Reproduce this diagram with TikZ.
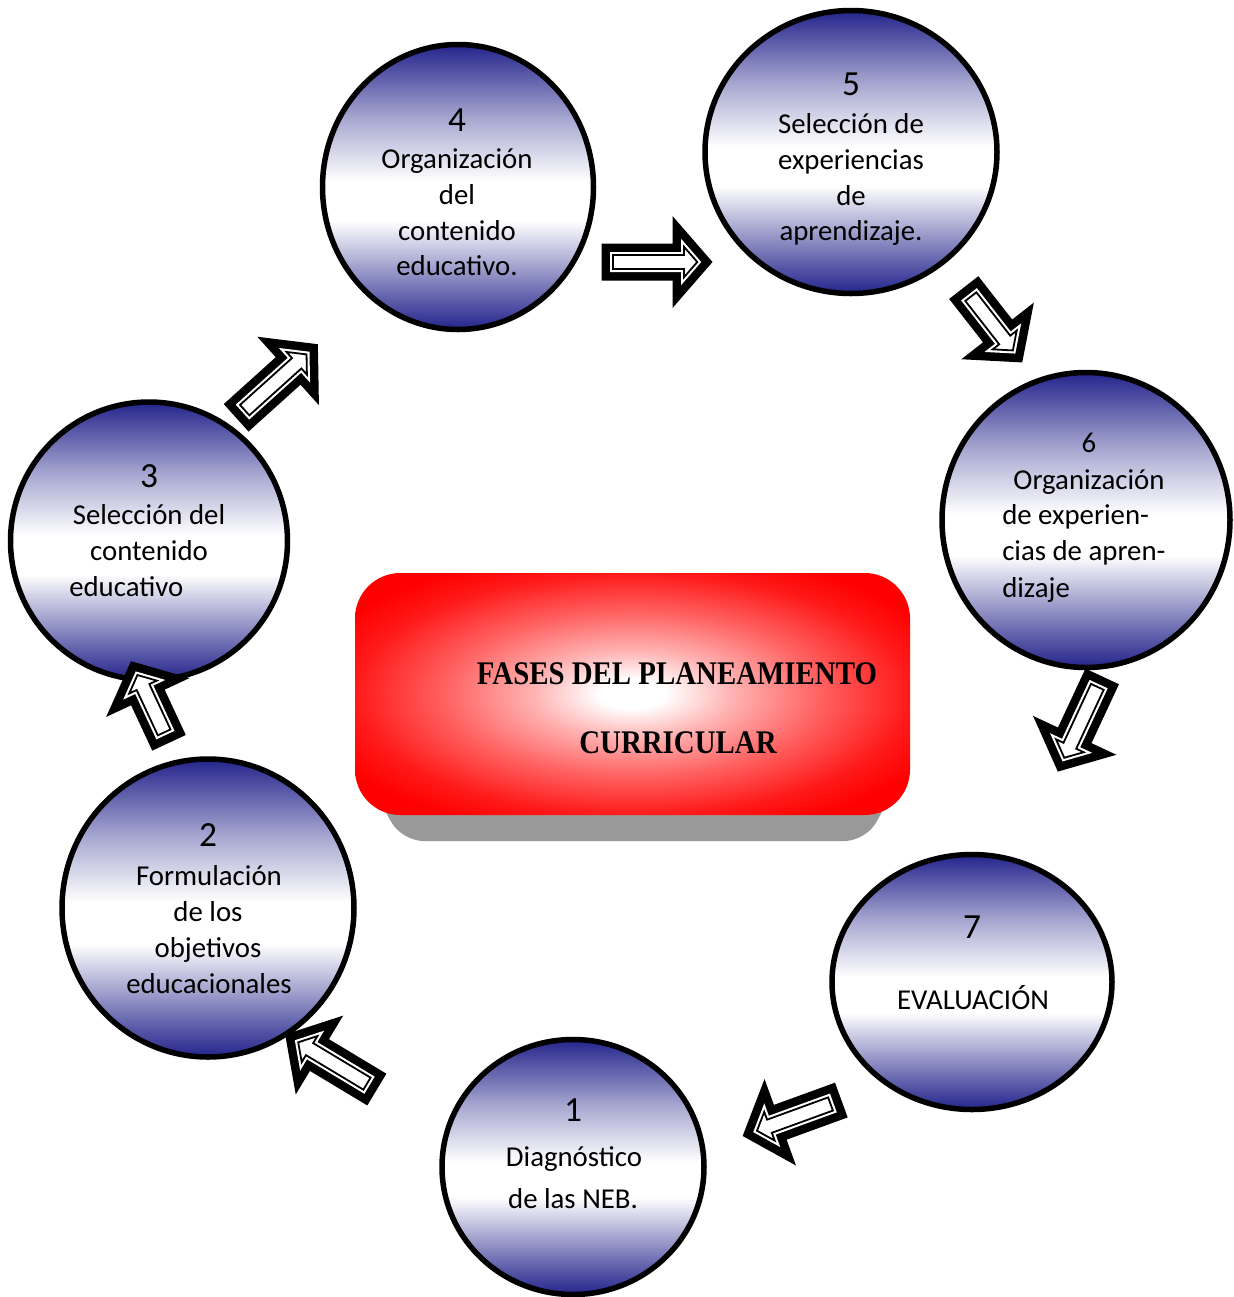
\documentclass[tikz,border=0pt]{standalone}
\usepackage{graphicx}
\usepackage{fontspec}
\setmainfont{Carlito}
\newfontfamily\titlefont{Liberation Serif}
\usetikzlibrary{shapes.geometric}
\newlength\px
\setlength\px{0.75pt}
\definecolor{cblue}{RGB}{36,36,140}
\pgfdeclareverticalshading{bluecirc}{100bp}{color(0bp)=(cblue); color(25bp)=(cblue); color(31bp)=(cblue!70!white); color(44bp)=(white); color(51bp)=(white); color(62bp)=(cblue!40!white); color(75bp)=(cblue); color(100bp)=(cblue)}
\pgfdeclareradialshading{redglow}{\pgfpoint{0bp}{0bp}}{color(0bp)=(white); color(3bp)=(white); color(9bp)=(red!30!white); color(17bp)=(red!62!white); color(25bp)=(red!90!white); color(30bp)=(red); color(50bp)=(red)}
\newcommand\arrlayer[2]{%
  \pgfmathsetmacro\arD{#1}%
  \pgfmathsetmacro\arHyp{sqrt(\arA*\arA+\arH*\arH)}%
  \pgfmathsetmacro\arXa{-\arL/2+\arD}%
  \pgfmathsetmacro\arXb{\arL/2-\arA+\arD}%
  \pgfmathsetmacro\arYw{\arW-\arD}%
  \pgfmathsetmacro\arYh{\arH*(\arA-\arD)/\arA-\arD*\arHyp/\arA}%
  \pgfmathsetmacro\arXt{\arL/2-\arD*\arHyp/\arH}%
  \path[#2] (\arXa,-\arYw) -- (\arXb,-\arYw) -- (\arXb,-\arYh) -- (\arXt,0) -- (\arXb,\arYh) -- (\arXb,\arYw) -- (\arXa,\arYw) -- cycle;}
\newcommand\blockarrow[5]{%
  \def\arL{#5}\def\arA{40}\def\arH{46}\def\arW{18.5}%
  \begin{scope}[shift={(#2,#3)}, rotate=#4]
    \coordinate (#1) at (0,0);
    \arrlayer{0}{fill=black}
    \arrlayer{8.5}{fill=white}
    \arrlayer{11.5}{draw=black, line width=1.8\px, fill=white}
  \end{scope}}
\newcommand\tline[5]{\node[#4] (#1) at (#2,#3) {#5};}
\begin{document}
\begin{tikzpicture}[x=0.75pt, y=-0.75pt,
  circ/.style={ellipse, draw=black, line width=5.5\px, shading=bluecirc, inner sep=0pt},
  lbl/.style={anchor=base, inner sep=0pt, font=\fontsize{21.6}{26}\selectfont},
  lblw/.style={lbl, anchor=base west},
  num/.style={anchor=base, inner sep=0pt, font=\fontsize{26.5}{30}\selectfont},
  ttl/.style={anchor=base, inner sep=0pt, font=\titlefont\bfseries\fontsize{24.75}{30}\selectfont}]
\useasboundingbox (0,0) rectangle (1233,1297);

% circles
\node[circ, minimum width=271\px, minimum height=285\px] (c4) at (458,187) {};
\node[circ, minimum width=292\px, minimum height=283\px] (c5) at (851,152) {};
\node[circ, minimum width=288\px, minimum height=295\px] (c6) at (1086,520) {};
\node[circ, minimum width=280\px, minimum height=255\px] (c7) at (972,982) {};
\node[circ, minimum width=262\px, minimum height=255\px] (c1) at (573,1167) {};
\node[circ, minimum width=292\px, minimum height=298\px] (c2) at (208,908) {};
\node[circ, minimum width=277\px, minimum height=278\px] (c3) at (149,541) {};

% central box
\fill[black!40, rounded corners=16pt] (362,770) -- (402,841) -- (866,841) -- (905,770) -- cycle;
\node[rounded corners=34pt, minimum width=555\px, minimum height=242\px, shading=redglow, inner sep=0pt] (box) at (632.5,694) {};
\tline{t1}{677}{684.5}{ttl}{\scalebox{0.875}[1]{FASES DEL PLANEAMIENTO}}
\tline{t2}{678}{753.5}{ttl}{\scalebox{0.875}[1]{CURRICULAR}}

% arrows
\blockarrow{a45}{657}{262}{0}{111}
\blockarrow{a56}{993}{325}{-52}{95}
\blockarrow{a67}{1080}{724}{-115}{105}
\blockarrow{a71}{792}{1118}{200}{105}
\blockarrow{a12}{331}{1062}{149}{107}
\blockarrow{a23}{150}{702}{115}{90}
\blockarrow{a34}{277}{381}{42}{110}

% texts circle 4
\tline{n4}{457}{131}{num}{4}
\tline{l4a}{457}{168}{lbl}{Organización}
\tline{l4b}{457}{204}{lbl}{del}
\tline{l4c}{457}{240}{lbl}{contenido}
\tline{l4d}{457}{275}{lbl}{educativo.}
% circle 5
\tline{n5}{851}{95}{num}{5}
\tline{l5a}{851}{133}{lbl}{Selección de}
\tline{l5b}{851}{169}{lbl}{experiencias}
\tline{l5c}{851}{205}{lbl}{de}
\tline{l5d}{851}{240}{lbl}{aprendizaje.}
% circle 6
\tline{n6}{1089}{452}{lbl}{6}
\tline{l6a}{1089}{489}{lbl}{Organización}
\tline{l6b}{1002}{524}{lblw}{de experien-}
\tline{l6c}{1002}{560}{lblw}{cias de apren-}
\tline{l6d}{1002}{597}{lblw}{dizaje}
% circle 7
\tline{n7}{972}{938}{num}{7}
\tline{l7a}{973}{1009}{lbl}{EVALUACIÓN}
% circle 1
\tline{n1}{573}{1121}{num}{1}
\tline{l1a}{574}{1166}{lbl}{Diagnóstico}
\tline{l1b}{573}{1208}{lbl}{de las NEB.}
% circle 2
\tline{n2}{208}{846}{num}{2}
\tline{l2a}{209}{885}{lbl}{Formulación}
\tline{l2b}{208}{921}{lbl}{de los}
\tline{l2c}{208}{957}{lbl}{objetivos}
\tline{l2d}{209}{993}{lbl}{educacionales}
% circle 3
\tline{n3}{149}{487}{num}{3}
\tline{l3a}{149}{524}{lbl}{Selección del}
\tline{l3b}{149}{560}{lbl}{contenido}
\tline{l3c}{69}{596}{lblw}{educativo}
\end{tikzpicture}
\end{document}
